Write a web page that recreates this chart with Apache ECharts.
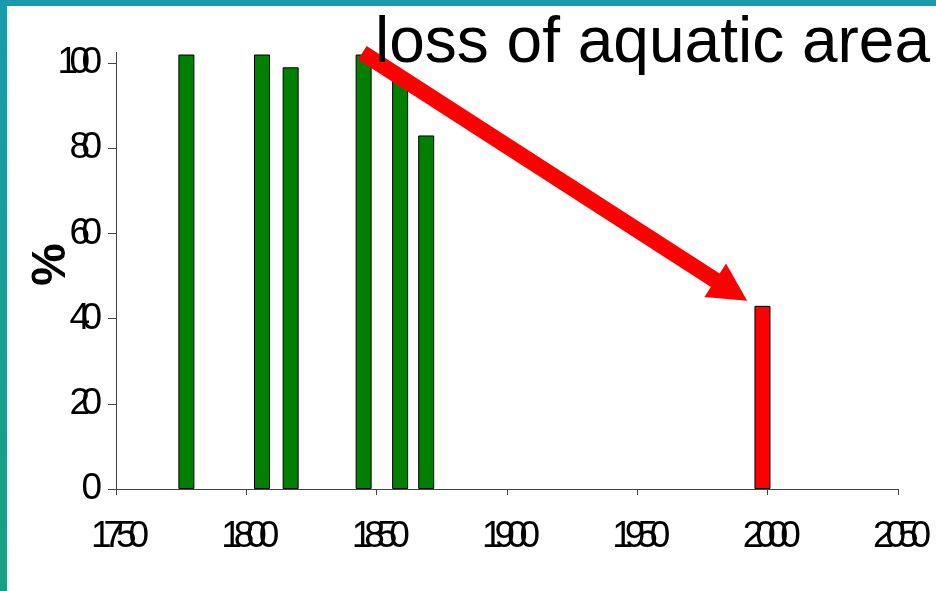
<!DOCTYPE html>
<html>
<head>
<meta charset="utf-8">
<script src="https://cdn.jsdelivr.net/npm/echarts@6/dist/echarts.min.js"></script>
<style>
  html, body { margin: 0; padding: 0; background: #fff; }
  #chart { width: 936px; height: 591px; }
</style>
</head>
<body>
<div id="chart"></div>
<script>
// ---- data ----
const greenYears  = [1777, 1806, 1817, 1845, 1859, 1869];
const greenValues = [102, 102, 99, 102, 97, 83];
const redYears    = [1998];
const redValues   = [43];
const yTickValues = [0, 20, 40, 60, 80, 100];
const titleText   = 'loss of aquatic area';
const yAxisName   = '%';
// arrow annotation (data coordinates: [year, %])
const arrowFrom = [1844.5, 102.4];
const arrowTo   = [1986, 46.6];

const FONT = '"Liberation Sans", Arial, Helvetica, sans-serif';

function squeeze(v) {
  return String(v).split('').map(c => '{d|' + c + '}').join('');
}
const xRich = { d: { fontSize: 37, width: 12.5, lineHeight: 37, fontFamily: FONT, color: '#000' } };
const yRich = { d: { fontSize: 37, width: 12, lineHeight: 37, fontFamily: FONT, color: '#000' } };

const chart = echarts.init(document.getElementById('chart'), null, { renderer: 'canvas' });

chart.setOption({
  backgroundColor: '#ffffff',
  animation: false,
  title: {
    text: titleText,
    left: 375,
    top: 12,
    padding: 0,
    textStyle: { fontSize: 64, fontWeight: 'normal', color: '#000', fontFamily: FONT }
  },
  graphic: [
    { type: 'rect', z: 100, shape: { x: 0, y: 0, width: 936, height: 6 }, style: { fill: '#189bad' } },
    { type: 'rect', z: 100, shape: { x: 0, y: 0, width: 7, height: 591 },
      style: { fill: new echarts.graphic.LinearGradient(0, 0, 0, 1, [
        { offset: 0, color: '#189bad' }, { offset: 1, color: '#1a9f7e' }
      ]) } }
  ],
  grid: { left: 116, right: 38, top: 52.4, bottom: 102, containLabel: false, outerBoundsMode: 'none' },
  xAxis: {
    type: 'value', min: 1750, max: 2050, interval: 50,
    axisLine: { show: true, lineStyle: { color: '#444', width: 1 } },
    axisTick: { show: true, length: 6, lineStyle: { color: '#444' } },
    splitLine: { show: false },
    axisLabel: { margin: 29, padding: [0, 0, 0, 8], fontSize: 37, fontFamily: FONT, color: '#000', formatter: squeeze, rich: xRich }
  },
  yAxis: {
    type: 'value', min: 0, max: 102.5, interval: 20,
    name: yAxisName, nameLocation: 'middle', nameRotate: 90, nameGap: 40, nameMoveOverlap: false,
    nameTextStyle: { fontSize: 48, fontWeight: 'bold', color: '#000', fontFamily: FONT, padding: [0, 0, 0, 12] },
    axisLine: { show: true, lineStyle: { color: '#444', width: 1 } },
    axisTick: { show: true, length: 8, customValues: yTickValues, lineStyle: { color: '#444' } },
    splitLine: { show: false },
    axisLabel: { customValues: yTickValues, margin: 14, fontSize: 37, fontFamily: FONT, color: '#000', formatter: squeeze, rich: yRich }
  },
  series: [
    {
      type: 'bar',
      data: greenYears.map((y, i) => [y, greenValues[i]]),
      barWidth: 16,
      barGap: '-100%',
      itemStyle: { color: '#008000', borderColor: '#000', borderWidth: 1 },
      emphasis: { disabled: true },
      silent: true
    },
    {
      type: 'bar',
      data: redYears.map((y, i) => [y, redValues[i]]),
      barWidth: 16,
      barGap: '-100%',
      clip: false,
      itemStyle: { color: '#ff0000', borderColor: '#000', borderWidth: 1 },
      emphasis: { disabled: true },
      silent: true,
      markLine: {
        silent: true,
        animation: false,
        symbol: ['none', 'triangle'],
        symbolSize: [40, 38],
        label: { show: false },
        lineStyle: { color: '#ff0000', width: 16, type: 'solid', opacity: 1, cap: 'butt' },
        emphasis: { disabled: true },
        itemStyle: { color: '#ff0000' },
        data: [[ { coord: arrowFrom }, { coord: arrowTo } ]]
      }
    }
  ]
});
</script>
</body>
</html>
